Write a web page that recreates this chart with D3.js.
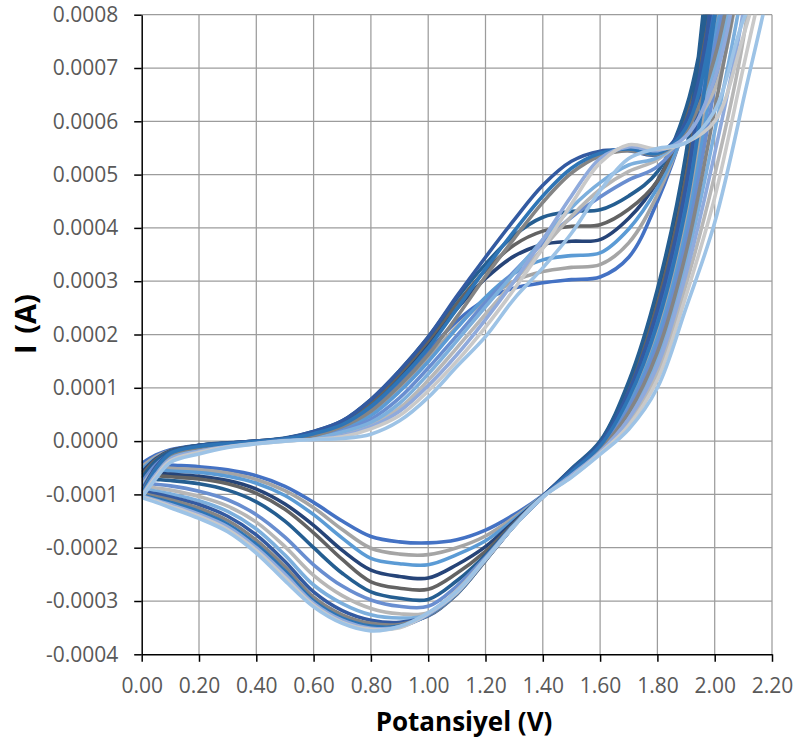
<!DOCTYPE html>
<html>
<head>
<meta charset="utf-8">
<script src="https://cdn.jsdelivr.net/npm/d3@7"></script>
<style>
	body { margin: 0; background: #fff; }
	svg { display: block; }
</style>
</head>
<body>
<div id="chart"></div>
<script>
// potentials (V) shared by every scan, forward goes up to the vertex at 2.2
const potentials = [0, 0.05, 0.1, 0.2, 0.3, 0.4, 0.5, 0.6, 0.7, 0.8, 0.9, 1.0, 1.1,
	1.2, 1.3, 1.4, 1.5, 1.6, 1.7, 1.8, 1.9, 2.0, 2.1, 2.2];

const seriesColors = ['#4472C4', '#A5A5A5', '#5B9BD5', '#264478', '#636363', '#255E91',
	'#698ED0', '#B7B7B7', '#7CAFDD', '#335AA1', '#848484', '#2E75B6', '#8FAADC', '#C9C9C9', '#9DC3E6'];

// currents in microamps
const forwardCurrents = [
	[-42, -26, -16, -8, -4, -1, 4, 13, 29, 60, 110, 168, 225, 265, 287, 297, 303, 308, 345, 450, 600, 820, 1130, 1480],
	[-48, -29, -18, -9, -5, -2, 3, 9, 25, 52, 98, 155, 215, 265, 300, 318, 326, 331, 372, 462, 595, 780, 1070, 1400],
	[-53, -32, -19, -10, -5, -2, 3, 8, 23, 48, 93, 149, 212, 270, 315, 340, 348, 353, 398, 475, 590, 760, 1040, 1360],
	[-59, -33, -18, -8, -4, 0, 5, 15, 33, 69, 120, 181, 248, 305, 347, 369, 375, 378, 418, 488, 615, 870, 1200, 1550],
	[-64, -35, -19, -8, -4, 0, 5, 16, 35, 73, 126, 188, 258, 320, 368, 394, 403, 406, 435, 488, 615, 860, 1190, 1540],
	[-70, -37, -20, -8, -3, 0, 6, 18, 38, 78, 132, 195, 268, 332, 386, 420, 431, 434, 460, 505, 625, 900, 1250, 1620],
	[-78, -44, -25, -13, -7, -3, 2, 6, 20, 41, 81, 137, 198, 260, 318, 372, 420, 458, 490, 515, 585, 740, 1010, 1320],
	[-84, -50, -29, -15, -8, -3, 1, 4, 14, 30, 62, 114, 175, 238, 300, 362, 422, 472, 506, 528, 575, 660, 900, 1180],
	[-89, -50, -27, -14, -7, -3, 2, 5, 17, 35, 71, 126, 188, 252, 315, 378, 438, 485, 518, 532, 580, 700, 960, 1260],
	[-94, -48, -22, -9, -4, 0, 5, 18, 38, 78, 132, 195, 272, 345, 415, 480, 525, 544, 545, 538, 600, 850, 1170, 1520],
	[-98, -52, -25, -12, -6, -2, 3, 10, 27, 56, 104, 162, 233, 309, 380, 448, 503, 535, 545, 538, 582, 720, 990, 1290],
	[-101, -52, -23, -10, -5, -1, 4, 14, 31, 65, 115, 175, 248, 323, 394, 460, 512, 540, 548, 540, 588, 800, 1100, 1440],
	[-103, -62, -34, -19, -10, -4, 1, 3, 10, 27, 56, 104, 162, 228, 300, 378, 460, 530, 552, 545, 572, 680, 930, 1220],
	[-105, -66, -37, -21, -11, -5, 0, 3, 8, 23, 48, 94, 150, 214, 285, 362, 445, 522, 556, 548, 560, 600, 760, 950],
	[-106, -70, -40, -24, -12, -5, 0, 3, 5, 13, 38, 82, 140, 196, 267, 325, 390, 470, 530, 549, 560, 620, 790, 900]
];

// reverse scan, listed from 0 V up to 2.1 V (drawn backwards from the vertex)
const reverseCurrents = [
	[-42, -43, -45, -48, -54, -65, -85, -115, -150, -179, -189, -191, -185, -167, -138, -102, -56, -7, 87, 233, 459, 835, 1187],
	[-48, -49, -51, -54, -60, -72, -93, -125, -166, -201, -212, -213, -200, -178, -143, -103, -59, -11, 74, 207, 418, 752, 1081],
	[-53, -54, -56, -59, -66, -79, -102, -138, -182, -220, -230, -232, -213, -187, -147, -103, -60, -13, 67, 193, 395, 705, 1020],
	[-59, -60, -62, -66, -74, -90, -118, -158, -205, -242, -254, -257, -232, -198, -151, -103, -53, -2, 106, 272, 520, 959, 1347],
	[-64, -65, -67, -71, -80, -98, -128, -172, -222, -264, -276, -278, -248, -207, -154, -104, -54, -4, 99, 259, 499, 917, 1294],
	[-70, -72, -74, -80, -92, -114, -150, -200, -248, -283, -295, -297, -262, -214, -156, -104, -52, 0, 112, 285, 540, 1000, 1400],
	[-78, -81, -84, -94, -110, -138, -180, -232, -272, -298, -310, -310, -272, -218, -157, -104, -61, -14, 61, 180, 375, 664, 967],
	[-84, -88, -92, -104, -122, -152, -198, -252, -290, -314, -324, -322, -280, -221, -158, -104, -66, -21, 36, 128, 294, 499, 754],
	[-89, -94, -99, -112, -132, -165, -214, -270, -305, -326, -332, -326, -284, -223, -158, -104, -63, -18, 48, 154, 334, 581, 860],
	[-94, -99, -105, -119, -141, -176, -226, -283, -318, -336, -340, -328, -287, -224, -159, -104, -55, -5, 93, 246, 479, 876, 1240],
	[-98, -104, -110, -126, -149, -186, -236, -293, -326, -342, -344, -327, -287, -224, -159, -105, -62, -16, 54, 167, 354, 622, 914],
	[-101, -108, -115, -132, -156, -194, -244, -300, -332, -347, -347, -326, -286, -223, -159, -105, -58, -9, 81, 220, 439, 794, 1134],
	[-103, -111, -119, -137, -161, -200, -250, -304, -336, -351, -349, -325, -285, -222, -159, -105, -64, -20, 42, 141, 314, 540, 807],
	[-105, -113, -122, -141, -166, -205, -256, -308, -340, -353, -350, -323, -284, -222, -159, -105, -67, -23, 29, 115, 273, 457, 701],
	[-106, -115, -125, -145, -170, -210, -262, -311, -342, -356, -348, -322, -282, -221, -159, -105, -68, -25, 22, 100, 250, 410, 640]
];

const xTickValues = [0, 0.2, 0.4, 0.6, 0.8, 1.0, 1.2, 1.4, 1.6, 1.8, 2.0, 2.2];
const yTickValues = [-0.0004, -0.0003, -0.0002, -0.0001, 0, 0.0001, 0.0002, 0.0003, 0.0004, 0.0005, 0.0006, 0.0007, 0.0008];
const xTitle = 'Potansiyel (V)';
const yTitle = 'I (A)';

function drawChart(selector) {
	const width = 798;
	const height = 747;
	const plot = { left: 141.7, right: 772, top: 14.7, bottom: 654.3 };
	const labelFont = '"Open Sans", "Noto Sans", sans-serif';

	const x = d3.scaleLinear().domain([0, 2.2]).range([plot.left, plot.right]);
	const y = d3.scaleLinear().domain([-0.0004, 0.0008]).range([plot.bottom, plot.top]);

	const svg = d3.select(selector)
		.append('svg')
		.attr('width', width)
		.attr('height', height)

	svg.append('defs').append('clipPath')
		.attr('id', 'plot-clip')
		.append('rect')
		.attr('x', plot.left)
		.attr('y', plot.top)
		.attr('width', plot.right - plot.left)
		.attr('height', plot.bottom - plot.top)

	// gridlines
	const grid = svg.append('g').attr('stroke', '#9c9c9c').attr('stroke-width', 1.25)
	grid.selectAll('line.v')
		.data(xTickValues.slice(1))
		.enter()
		.append('line')
		.attr('class', 'v')
		.attr('x1', d => x(d)).attr('x2', d => x(d))
		.attr('y1', plot.top).attr('y2', plot.bottom)
	grid.selectAll('line.h')
		.data(yTickValues.slice(1))
		.enter()
		.append('line')
		.attr('class', 'h')
		.attr('x1', plot.left).attr('x2', plot.right)
		.attr('y1', d => y(d)).attr('y2', d => y(d))

	// curves
	const line = d3.line()
		.x(d => x(d[0]))
		.y(d => y(d[1] * 1e-6))
		.curve(d3.curveCatmullRom.alpha(0.5))

	const loops = forwardCurrents.map((fwd, k) => {
		const pts = fwd.map((c, i) => [potentials[i], c]);
		const rev = reverseCurrents[k];
		for (let i = rev.length - 1; i >= 0; i--) {
			pts.push([potentials[i], rev[i]]);
		}
		return { color: seriesColors[k], pts: pts };
	});

	svg.append('g')
		.attr('clip-path', 'url(#plot-clip)')
		.selectAll('path')
		.data(loops)
		.enter()
		.append('path')
		.attr('d', d => line(d.pts))
		.attr('fill', 'none')
		.attr('stroke', d => d.color)
		.attr('stroke-width', 3.6)
		.attr('stroke-linejoin', 'round')

	// axes
	const yAxis = svg.append('g')
		.attr('transform', `translate(${plot.left},0)`)
		.call(d3.axisLeft(y).tickValues(yTickValues).tickSize(7.5).tickSizeOuter(0).tickPadding(16)
			.tickFormat(d => d.toFixed(4)))
	const xAxis = svg.append('g')
		.attr('transform', `translate(0,${plot.bottom})`)
		.call(d3.axisBottom(x).tickValues(xTickValues).tickSize(7.5).tickSizeOuter(0).tickPadding(16)
			.tickFormat(d => d.toFixed(2)))

	;[xAxis, yAxis].forEach(a => {
		a.select('.domain').attr('stroke', '#000').attr('stroke-width', 1.5)
		a.selectAll('.tick line').attr('stroke', '#000').attr('stroke-width', 1.5)
		a.selectAll('.tick text')
			.attr('fill', '#595959')
			.style('font-family', labelFont)
			.style('font-size', '21px')
	})

	// titles
	svg.append('text')
		.attr('x', 464)
		.attr('y', 731)
		.attr('text-anchor', 'middle')
		.style('font-family', labelFont)
		.style('font-size', '26px')
		.style('font-weight', 'bold')
		.text(xTitle)

	svg.append('text')
		.attr('transform', 'translate(36,324) rotate(-90)')
		.attr('text-anchor', 'middle')
		.style('font-family', labelFont)
		.style('font-size', '29px')
		.style('font-weight', 'bold')
		.style('word-spacing', '3px')
		.text(yTitle)
}

drawChart('#chart');
</script>
</body>
</html>
